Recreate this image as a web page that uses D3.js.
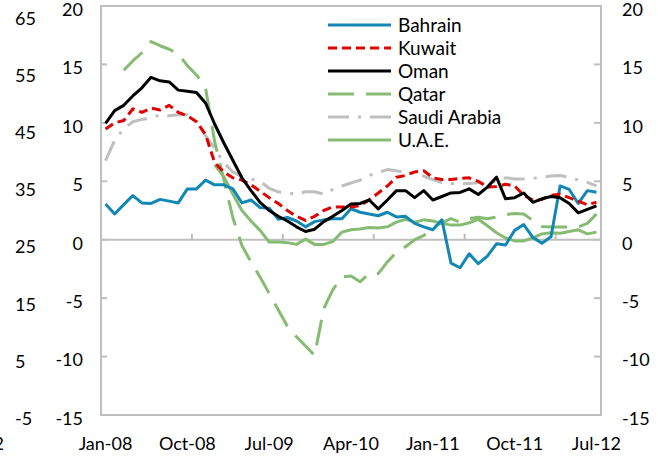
<!DOCTYPE html>
<html>
<head>
<meta charset="utf-8">
<script src="https://cdn.jsdelivr.net/npm/d3@7/dist/d3.min.js"></script>
<style>
  html, body { margin: 0; padding: 0; background: #fff; }
  svg { display: block; }
  text { font-family: Lato, "Open Sans", sans-serif; fill: #000; }
</style>
</head>
<body>
<svg id="chart" width="658" height="456"></svg>
<script>
// ---- Data ----
const months = [
  "Jan-08","Feb-08","Mar-08","Apr-08","May-08","Jun-08","Jul-08","Aug-08","Sep-08","Oct-08","Nov-08","Dec-08",
  "Jan-09","Feb-09","Mar-09","Apr-09","May-09","Jun-09","Jul-09","Aug-09","Sep-09","Oct-09","Nov-09","Dec-09",
  "Jan-10","Feb-10","Mar-10","Apr-10","May-10","Jun-10","Jul-10","Aug-10","Sep-10","Oct-10","Nov-10","Dec-10",
  "Jan-11","Feb-11","Mar-11","Apr-11","May-11","Jun-11","Jul-11","Aug-11","Sep-11","Oct-11","Nov-11","Dec-11",
  "Jan-12","Feb-12","Mar-12","Apr-12","May-12","Jun-12","Jul-12"
];
const xTickLabels = ["Jan-08","Oct-08","Jul-09","Apr-10","Jan-11","Oct-11","Jul-12"];
const xTickMarks = ["Nov-08","Sep-09","Jul-10","May-11","Mar-12"];
const yTicks = [20, 15, 10, 5, 0, -5, -10, -15];
const yOuterTicks = [65, 55, 45, 35, 25, 15, 5, -5];

const bahrain = [3.05,2.2,3.0,3.78,3.15,3.1,3.45,3.3,3.15,4.35,4.35,5.1,4.7,4.7,4.35,3.15,3.4,2.75,2.7,1.75,
  1.9,1.6,1.1,1.55,1.7,1.8,1.8,2.65,2.35,2.2,2.05,2.35,1.95,2.0,1.4,1.1,0.85,1.7,-2.0,-2.4,
  -1.2,-2.05,-1.4,-0.35,-0.45,0.8,1.3,0.2,-0.3,0.25,4.6,4.3,3.1,4.2,4.06];
const kuwait = [9.47,10.0,10.2,11.2,10.9,11.26,11.1,11.5,10.9,10.6,10.1,9.0,6.6,5.8,5.3,5.1,4.7,4.15,3.6,3.1,
  2.5,2.0,1.65,2.0,2.5,2.8,2.8,2.8,2.93,3.4,4.0,4.6,5.35,5.5,5.8,5.9,5.3,5.15,5.15,5.25,
  5.3,5.0,4.5,4.55,4.75,4.6,3.8,3.4,3.45,3.8,3.9,3.6,3.3,3.0,3.2];
const oman = [9.95,11.05,11.5,12.3,13.0,13.9,13.6,13.5,12.8,12.7,12.6,11.7,9.9,8.3,6.8,5.3,4.2,3.2,2.5,2.0,
  1.6,1.1,0.7,0.9,1.55,2.0,2.5,3.05,3.1,3.4,2.64,3.4,4.2,4.2,3.6,4.2,3.4,3.7,4.0,4.05,
  4.35,3.87,4.5,5.35,3.5,3.6,4.0,3.2,3.5,3.7,3.6,3.1,2.3,2.6,2.9];
const qatar = [null,null,14.5,15.3,16.0,16.95,16.6,16.3,15.9,14.9,14.1,13.0,8.4,5.2,1.9,-0.5,-1.9,-3.2,-4.6,-6.0,
  -7.4,-8.3,-9.1,-9.9,-5.9,-4.3,-3.2,-3.1,-3.6,-2.9,-2.9,-1.9,-1.06,-0.6,0.0,0.35,1.05,1.45,1.8,1.5,
  1.8,1.93,1.8,1.93,2.15,2.25,2.2,1.65,1.13,1.08,1.08,1.08,1.1,1.4,2.2];
const saudi = [6.77,8.5,9.5,10.1,10.3,10.4,10.7,10.6,10.7,10.7,10.1,8.9,7.8,6.6,5.8,5.4,5.2,5.0,4.4,4.1,
  4.0,3.9,4.1,4.1,3.9,4.3,4.6,4.85,5.1,5.5,5.75,6.0,5.9,5.75,5.65,5.45,5.15,4.9,4.8,4.78,
  4.8,4.9,4.8,5.0,5.3,5.2,5.2,5.25,5.35,5.45,5.5,5.35,5.1,4.9,4.6];
const uae = [null,null,null,null,null,null,null,null,null,null,null,null,6.4,5.4,3.9,2.5,1.6,0.8,-0.2,-0.2,
  -0.25,-0.4,0.05,-0.4,-0.4,-0.15,0.65,0.85,0.92,1.05,1.0,1.1,1.5,1.75,1.5,1.7,1.6,1.4,1.25,1.25,
  1.45,1.75,1.2,0.6,0.15,-0.1,-0.1,0.15,0.5,0.6,0.55,0.7,0.85,0.5,0.65];

const seriesNames = ["Bahrain","Kuwait","Oman","Qatar","Saudi Arabia","U.A.E."];
const seriesValues = [bahrain, kuwait, oman, qatar, saudi, uae];
const seriesColors = ["#1287B5","#E00000","#000000","#86BC72","#BFBFBF","#86BC72"];
const seriesDashes = [null,"9,5",null,"26,12","21,9,3,9",null];

// ---- Layout ----
const svg = d3.select("#chart");
const L = 101, R = 601, T = 6, B = 415;
const axisColor = "#BFBFBF";
const fs = 18;

const x = d3.scaleBand().domain(months).range([L, R]).padding(0);
const xc = m => x(m) + x.bandwidth() / 2;
const y = d3.scaleLinear().domain([-15, 20]).range([B, T]);
const yOuter = d3.scaleLinear().domain([-5, 65]).range([B, T + 9]);

// plot frame
const frame = svg.append("g").attr("stroke", axisColor).attr("stroke-width", 2).attr("fill", "none");
frame.append("rect").attr("x", L).attr("y", T).attr("width", R - L).attr("height", B - T);

// left & right axis ticks (inward)
frame.selectAll(".lt").data(yTicks).join("line")
  .attr("x1", L).attr("x2", L + 6).attr("y1", d => y(d)).attr("y2", d => y(d));
frame.selectAll(".rt").data(yTicks).join("line")
  .attr("x1", R - 7).attr("x2", R).attr("y1", d => y(d)).attr("y2", d => y(d));

// zero line (category axis) with tick marks
frame.append("line").attr("x1", L).attr("x2", R).attr("y1", y(0)).attr("y2", y(0));
frame.selectAll(".xt").data(xTickMarks).join("line")
  .attr("x1", d => x(d)).attr("x2", d => x(d)).attr("y1", y(0) - 6).attr("y2", y(0));

// tick labels
const lab = svg.append("g").attr("font-size", fs);
lab.selectAll(".yl").data(yTicks).join("text")
  .attr("x", 83).attr("y", d => y(d) + 3.5).attr("dy", "0.35em").attr("text-anchor", "end").text(d => d);
lab.selectAll(".yo").data(yOuterTicks).join("text")
  .attr("x", 15).attr("y", d => yOuter(d) + 3.5).attr("dy", "0.35em").attr("text-anchor", "start").text(d => d);
lab.selectAll(".yr").data(yTicks).join("text")
  .attr("x", 622).attr("y", d => y(d) + 3.5).attr("dy", "0.35em").attr("text-anchor", "start").text(d => d);
lab.selectAll(".xl").data(xTickLabels).join("text")
  .attr("x", d => xc(d)).attr("y", 444).attr("dy", "0.35em").attr("text-anchor", "middle").text(d => d);
lab.append("text").attr("x", 4).attr("y", 444).attr("dy", "0.35em").attr("text-anchor", "end").text("2");

// series lines
const line = d3.line()
  .defined(d => d.v !== null)
  .x(d => xc(d.m))
  .y(d => y(d.v));

const order = [4, 3, 5, 0, 1, 2];
order.forEach(k => {
  const data = months.map((m, i) => ({ m, v: seriesValues[k][i] }));
  svg.append("path")
    .datum(data)
    .attr("d", line)
    .attr("fill", "none")
    .attr("stroke", seriesColors[k])
    .attr("stroke-width", 3)
    .attr("stroke-linejoin", "round")
    .attr("stroke-dasharray", seriesDashes[k]);
});

// legend
const lg = svg.append("g");
const legY = d3.scalePoint().domain(seriesNames).range([25, 140]);
seriesNames.forEach((name, k) => {
  const yy = legY(name);
  lg.append("line")
    .attr("x1", 328).attr("x2", 391).attr("y1", yy).attr("y2", yy)
    .attr("stroke", seriesColors[k]).attr("stroke-width", 3)
    .attr("stroke-dasharray", seriesDashes[k]);
  lg.append("text").attr("x", 398).attr("y", yy).attr("dy", "0.35em")
    .attr("font-size", 19).text(name);
});
</script>
</body>
</html>
